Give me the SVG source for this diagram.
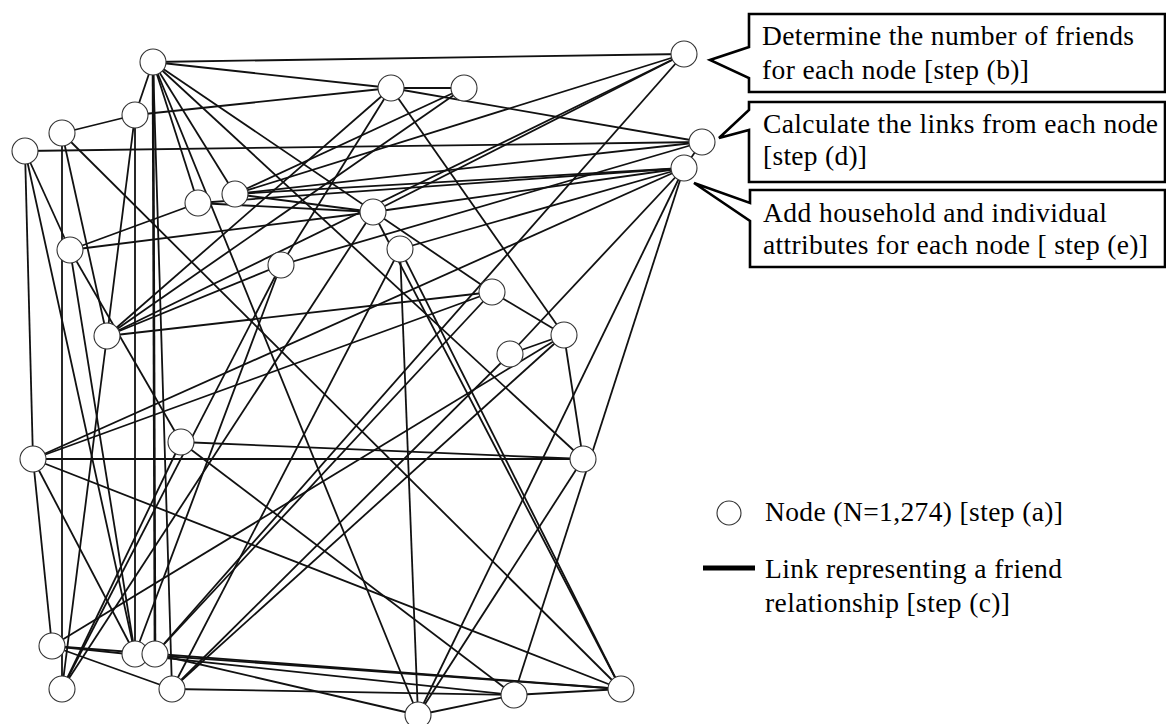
<svg xmlns="http://www.w3.org/2000/svg" width="1166" height="724" viewBox="0 0 1166 724">
<style>
.e{stroke:#111;stroke-width:1.8;fill:none}
.n{fill:#fff;stroke:#333;stroke-width:1.1}
.t{font-family:"Liberation Serif","Times New Roman",serif;font-size:27.5px;fill:#000}
.box{fill:#fff;stroke:#000;stroke-width:2.6;stroke-linejoin:miter}
</style>
<rect width="1166" height="724" fill="#fff"/>
<g id="links" class="e">
<line x1="153" y1="62" x2="684" y2="54"/>
<line x1="153" y1="62" x2="391" y2="88"/>
<line x1="153" y1="62" x2="135" y2="115"/>
<line x1="153" y1="62" x2="155" y2="654" stroke-width="2.6"/>
<line x1="153" y1="62" x2="172" y2="689"/>
<line x1="153" y1="62" x2="198" y2="203"/>
<line x1="153" y1="62" x2="235" y2="194"/>
<line x1="153" y1="62" x2="418" y2="715"/>
<line x1="153" y1="62" x2="583" y2="459"/>
<line x1="153" y1="62" x2="492" y2="292"/>
<line x1="684" y1="54" x2="235" y2="194"/>
<line x1="684" y1="54" x2="107" y2="336"/>
<line x1="684" y1="54" x2="155" y2="654"/>
<line x1="391" y1="88" x2="464" y2="88"/>
<line x1="391" y1="88" x2="135" y2="115"/>
<line x1="391" y1="88" x2="702" y2="142"/>
<line x1="391" y1="88" x2="107" y2="336"/>
<line x1="391" y1="88" x2="281" y2="265"/>
<line x1="391" y1="88" x2="564" y2="335"/>
<line x1="464" y1="88" x2="107" y2="336"/>
<line x1="464" y1="88" x2="235" y2="194"/>
<line x1="135" y1="115" x2="62" y2="133"/>
<line x1="135" y1="115" x2="107" y2="336"/>
<line x1="135" y1="115" x2="135" y2="654"/>
<line x1="62" y1="133" x2="62" y2="689"/>
<line x1="62" y1="133" x2="107" y2="336"/>
<line x1="62" y1="133" x2="621" y2="689"/>
<line x1="25" y1="151" x2="702" y2="142"/>
<line x1="25" y1="151" x2="33" y2="459"/>
<line x1="25" y1="151" x2="135" y2="654"/>
<line x1="25" y1="151" x2="70" y2="250"/>
<line x1="702" y1="142" x2="684" y2="168"/>
<line x1="702" y1="142" x2="235" y2="194"/>
<line x1="702" y1="142" x2="281" y2="265"/>
<line x1="684" y1="168" x2="198" y2="203"/>
<line x1="684" y1="168" x2="235" y2="194"/>
<line x1="684" y1="168" x2="373" y2="212"/>
<line x1="684" y1="168" x2="400" y2="249"/>
<line x1="684" y1="168" x2="33" y2="459"/>
<line x1="684" y1="168" x2="510" y2="354"/>
<line x1="684" y1="168" x2="418" y2="715"/>
<line x1="684" y1="168" x2="514" y2="695"/>
<line x1="198" y1="203" x2="373" y2="212"/>
<line x1="198" y1="203" x2="70" y2="250"/>
<line x1="235" y1="194" x2="373" y2="212"/>
<line x1="373" y1="212" x2="70" y2="250"/>
<line x1="373" y1="212" x2="62" y2="689"/>
<line x1="373" y1="212" x2="621" y2="689"/>
<line x1="373" y1="212" x2="684" y2="54"/>
<line x1="70" y1="250" x2="181" y2="442"/>
<line x1="70" y1="250" x2="135" y2="654"/>
<line x1="400" y1="249" x2="418" y2="715"/>
<line x1="400" y1="249" x2="621" y2="689"/>
<line x1="400" y1="249" x2="172" y2="689"/>
<line x1="281" y1="265" x2="62" y2="689"/>
<line x1="281" y1="265" x2="135" y2="654"/>
<line x1="107" y1="336" x2="281" y2="265"/>
<line x1="107" y1="336" x2="492" y2="292"/>
<line x1="107" y1="336" x2="62" y2="689"/>
<line x1="492" y1="292" x2="564" y2="335"/>
<line x1="492" y1="292" x2="33" y2="459"/>
<line x1="492" y1="292" x2="155" y2="654"/>
<line x1="564" y1="335" x2="583" y2="459"/>
<line x1="564" y1="335" x2="510" y2="354"/>
<line x1="564" y1="335" x2="172" y2="689"/>
<line x1="564" y1="335" x2="52" y2="646"/>
<line x1="510" y1="354" x2="172" y2="689"/>
<line x1="181" y1="442" x2="583" y2="459"/>
<line x1="181" y1="442" x2="514" y2="695"/>
<line x1="181" y1="442" x2="62" y2="689"/>
<line x1="33" y1="459" x2="583" y2="459"/>
<line x1="33" y1="459" x2="621" y2="689"/>
<line x1="33" y1="459" x2="52" y2="646"/>
<line x1="33" y1="459" x2="135" y2="654"/>
<line x1="583" y1="459" x2="418" y2="715"/>
<line x1="52" y1="646" x2="621" y2="689"/>
<line x1="52" y1="646" x2="514" y2="695"/>
<line x1="52" y1="646" x2="172" y2="689"/>
<line x1="135" y1="654" x2="621" y2="689"/>
<line x1="155" y1="654" x2="418" y2="715"/>
<line x1="172" y1="689" x2="514" y2="695"/>
<line x1="514" y1="695" x2="621" y2="689"/>
<line x1="514" y1="695" x2="418" y2="715"/>
</g>
<g id="node-A"><circle class="n" cx="153" cy="62" r="13"/></g>
<g id="node-B"><circle class="n" cx="684" cy="54" r="13"/></g>
<g id="node-C"><circle class="n" cx="391" cy="88" r="13"/></g>
<g id="node-D"><circle class="n" cx="464" cy="88" r="13"/></g>
<g id="node-E"><circle class="n" cx="135" cy="115" r="13"/></g>
<g id="node-F"><circle class="n" cx="62" cy="133" r="13"/></g>
<g id="node-G"><circle class="n" cx="25" cy="151" r="13"/></g>
<g id="node-H"><circle class="n" cx="702" cy="142" r="13"/></g>
<g id="node-I"><circle class="n" cx="684" cy="168" r="13"/></g>
<g id="node-J"><circle class="n" cx="198" cy="203" r="13"/></g>
<g id="node-K"><circle class="n" cx="235" cy="194" r="13"/></g>
<g id="node-L"><circle class="n" cx="373" cy="212" r="13"/></g>
<g id="node-M"><circle class="n" cx="70" cy="250" r="13"/></g>
<g id="node-P"><circle class="n" cx="400" cy="249" r="13"/></g>
<g id="node-Q"><circle class="n" cx="281" cy="265" r="13"/></g>
<g id="node-R"><circle class="n" cx="492" cy="292" r="13"/></g>
<g id="node-S"><circle class="n" cx="107" cy="336" r="13"/></g>
<g id="node-T"><circle class="n" cx="564" cy="335" r="13"/></g>
<g id="node-U"><circle class="n" cx="510" cy="354" r="13"/></g>
<g id="node-V"><circle class="n" cx="181" cy="442" r="13"/></g>
<g id="node-W"><circle class="n" cx="33" cy="459" r="13"/></g>
<g id="node-X"><circle class="n" cx="583" cy="459" r="13"/></g>
<g id="node-Y"><circle class="n" cx="52" cy="646" r="13"/></g>
<g id="node-Z"><circle class="n" cx="135" cy="654" r="13"/></g>
<g id="node-AA"><circle class="n" cx="155" cy="654" r="13"/></g>
<g id="node-AB"><circle class="n" cx="62" cy="689" r="13"/></g>
<g id="node-AC"><circle class="n" cx="172" cy="689" r="13"/></g>
<g id="node-AD"><circle class="n" cx="514" cy="695" r="13"/></g>
<g id="node-AE"><circle class="n" cx="621" cy="689" r="13"/></g>
<g id="node-AF"><circle class="n" cx="418" cy="715" r="13"/></g>
<g id="callout-b">
<path class="box" d="M749,14 H1165 V92 H749 V78 L710,60 L749,47 Z"/>
<text class="t" x="762" y="45" textLength="372" lengthAdjust="spacing">Determine the number of friends</text>
<text class="t" x="762" y="79" textLength="267" lengthAdjust="spacing">for each node [step (b)]</text>
</g>
<g id="callout-d">
<path class="box" d="M749,102 H1165 V182 H749 V130 L719,138 L749,110 Z"/>
<text class="t" x="763" y="133" textLength="395" lengthAdjust="spacing">Calculate the links from each node</text>
<text class="t" x="763" y="165" textLength="104" lengthAdjust="spacing">[step (d)]</text>
</g>
<g id="callout-e">
<path class="box" d="M750,190 H1165 V267 H750 V221 L694,183 L750,203 Z"/>
<text class="t" x="763" y="222" textLength="344" lengthAdjust="spacing">Add household and individual</text>
<text class="t" x="763" y="254" textLength="385" lengthAdjust="spacing">attributes for each node [ step (e)]</text>
</g>
<g id="legend">
<circle class="n" cx="729" cy="513" r="12"/>
<text class="t" x="765" y="521" textLength="298" lengthAdjust="spacing">Node (N=1,274) [step (a)]</text>
<line x1="703" y1="568" x2="755" y2="568" stroke="#000" stroke-width="5"/>
<text class="t" x="765" y="578" textLength="297" lengthAdjust="spacing">Link representing a friend</text>
<text class="t" x="765" y="612" textLength="245" lengthAdjust="spacing">relationship [step (c)]</text>
</g>
</svg>
